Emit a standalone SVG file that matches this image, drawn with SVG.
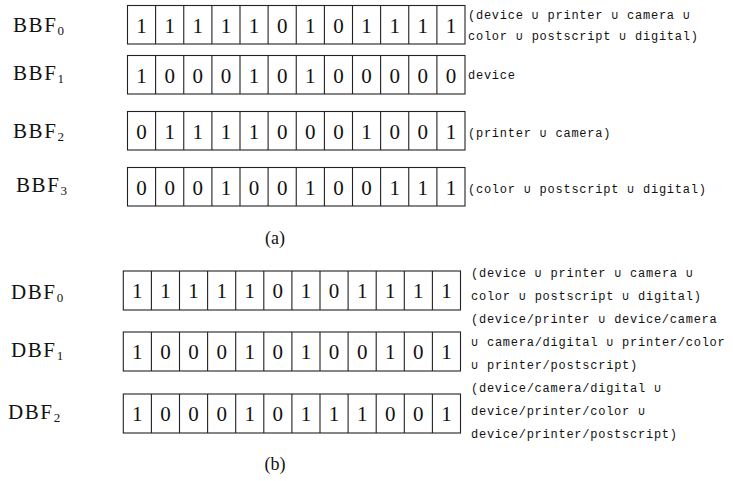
<svg xmlns="http://www.w3.org/2000/svg" xmlns:xlink="http://www.w3.org/1999/xlink" width="733" height="481" viewBox="0 0 733 481">
<style>
.grid{fill:none;stroke:#222;stroke-width:1.1}
.dig{font-family:"Liberation Serif","DejaVu Serif",serif;font-size:21px;fill:#111;text-anchor:middle}
.lab{font-family:"Liberation Serif","DejaVu Serif",serif;font-size:21px;letter-spacing:1.6px;fill:#111}
.sub{font-size:13px;letter-spacing:0}
.note{font-family:"Liberation Mono","DejaVu Sans Mono",monospace;font-size:12px;letter-spacing:0.75px;fill:#111}
.cap{font-family:"Liberation Serif","DejaVu Serif",serif;font-size:18px;fill:#111;text-anchor:middle}
</style>
<defs>
<g id="bgrid">
<rect class="grid" x="127.5" y="0" width="337.5" height="38.5"/>
<path class="grid" d="M155.6 0V38.5M183.75 0V38.5M211.9 0V38.5M240 0V38.5M268.1 0V38.5M296.25 0V38.5M324.4 0V38.5M352.5 0V38.5M380.6 0V38.5M408.75 0V38.5M436.9 0V38.5"/>
</g>
<g id="dgrid">
<rect class="grid" x="123.3" y="0" width="337.2" height="39"/>
<path class="grid" d="M151.4 0V39M179.5 0V39M207.6 0V39M235.7 0V39M263.8 0V39M291.9 0V39M320 0V39M348.1 0V39M376.2 0V39M404.3 0V39M432.4 0V39"/>
</g>
</defs>

<g id="BBF0">
<text class="lab" x="13" y="32">BBF<tspan class="sub" dy="3">0</tspan></text>
<use xlink:href="#bgrid" href="#bgrid" y="5.5"/>
<text class="dig" x="141.56 169.69 197.81 225.94 254.06 282.19 310.31 338.44 366.56 394.69 422.81 450.94" y="32.5">111110101111</text>
<text class="note" x="468" y="19">(device ∪ printer ∪ camera ∪</text>
<text class="note" x="468" y="40">color ∪ postscript ∪ digital)</text>
</g>

<g id="BBF1">
<text class="lab" x="13" y="80">BBF<tspan class="sub" dy="3">1</tspan></text>
<use xlink:href="#bgrid" href="#bgrid" y="55.5"/>
<text class="dig" x="141.56 169.69 197.81 225.94 254.06 282.19 310.31 338.44 366.56 394.69 422.81 450.94" y="82.5">100010100000</text>
<text class="note" x="468" y="79">device</text>
</g>

<g id="BBF2">
<text class="lab" x="13" y="138">BBF<tspan class="sub" dy="3">2</tspan></text>
<use xlink:href="#bgrid" href="#bgrid" y="111.5"/>
<text class="dig" x="141.56 169.69 197.81 225.94 254.06 282.19 310.31 338.44 366.56 394.69 422.81 450.94" y="138.5">011110001001</text>
<text class="note" x="468" y="137">(printer ∪ camera)</text>
</g>

<g id="BBF3">
<text class="lab" x="16" y="192">BBF<tspan class="sub" dy="3">3</tspan></text>
<use xlink:href="#bgrid" href="#bgrid" y="167.5"/>
<text class="dig" x="141.56 169.69 197.81 225.94 254.06 282.19 310.31 338.44 366.56 394.69 422.81 450.94" y="194.5">000100100111</text>
<text class="note" x="468" y="193">(color ∪ postscript ∪ digital)</text>
</g>

<text id="cap-a" class="cap" x="275" y="244">(a)</text>

<g id="DBF0">
<text class="lab" x="11" y="299">DBF<tspan class="sub" dy="3">0</tspan></text>
<use xlink:href="#dgrid" href="#dgrid" y="271"/>
<text class="dig" x="137.35 165.45 193.55 221.65 249.75 277.85 305.95 334.05 362.15 390.25 418.35 446.45" y="298">111110101111</text>
<text class="note" x="471" y="277">(device ∪ printer ∪ camera ∪</text>
<text class="note" x="471" y="300">color ∪ postscript ∪ digital)</text>
</g>

<g id="DBF1">
<text class="lab" x="11" y="357">DBF<tspan class="sub" dy="3">1</tspan></text>
<use xlink:href="#dgrid" href="#dgrid" y="332"/>
<text class="dig" x="137.35 165.45 193.55 221.65 249.75 277.85 305.95 334.05 362.15 390.25 418.35 446.45" y="359">100010100101</text>
<text class="note" x="471" y="323">(device/printer ∪ device/camera</text>
<text class="note" x="471" y="346">∪ camera/digital ∪ printer/color</text>
<text class="note" x="471" y="369">∪ printer/postscript)</text>
</g>

<g id="DBF2">
<text class="lab" x="8" y="419">DBF<tspan class="sub" dy="3">2</tspan></text>
<use xlink:href="#dgrid" href="#dgrid" y="394"/>
<text class="dig" x="137.35 165.45 193.55 221.65 249.75 277.85 305.95 334.05 362.15 390.25 418.35 446.45" y="421">100010111001</text>
<text class="note" x="471" y="392">(device/camera/digital ∪</text>
<text class="note" x="471" y="415">device/printer/color ∪</text>
<text class="note" x="471" y="438">device/printer/postscript)</text>
</g>

<text id="cap-b" class="cap" x="275" y="470">(b)</text>
</svg>
